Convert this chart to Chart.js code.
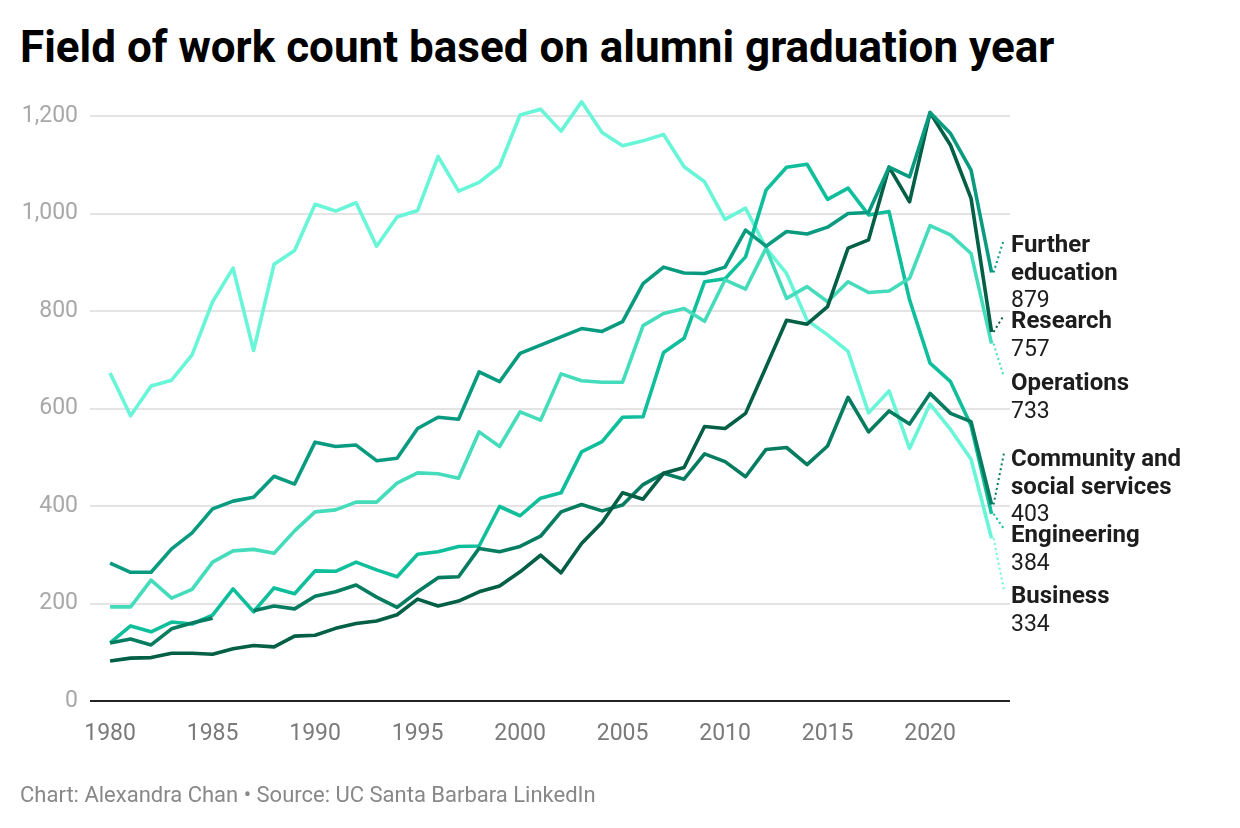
<!DOCTYPE html>
<html><head><meta charset="utf-8">
<script src="https://cdn.jsdelivr.net/npm/chart.js@4.4.1/dist/chart.umd.min.js"></script>
<style>
html,body{margin:0;padding:0;background:#fff;width:1240px;height:828px;overflow:hidden;font-family:Roboto,sans-serif}
#title{position:absolute;left:20px;top:20px;font-weight:700;font-size:44px;line-height:54px;color:#000;white-space:nowrap}
#foot{position:absolute;left:20px;top:782px;font-size:22px;line-height:26px;color:#888;white-space:nowrap}
canvas{position:absolute;left:0;top:0}
</style></head><body>
<div id="title">Field of work count based on alumni graduation year</div>
<canvas id="c" width="1240" height="828"></canvas>
<div id="foot">Chart: Alexandra Chan • Source: UC Santa Barbara LinkedIn</div>
<script>
const years = [1980,1981,1982,1983,1984,1985,1986,1987,1988,1989,1990,1991,1992,1993,1994,1995,1996,1997,1998,1999,2000,2001,2002,2003,2004,2005,2006,2007,2008,2009,2010,2011,2012,2013,2014,2015,2016,2017,2018,2019,2020,2021,2022,2023];
const xTicks = [1980,1985,1990,1995,2000,2005,2010,2015,2020];
const yTicks = [0,200,400,600,800,1000,1200];

const seriesNames = ['Further education','Research','Operations','Community and social services','Engineering','Business'];
const seriesColors = ['#099b80','#035f45','#45dcbc','#067c61','#0fbe9b','#69f5d8'];

const furtherEducation = [283,264,264,312,345,394,410,418,461,445,531,522,525,493,498,559,582,578,675,655,713,730,747,764,758,778,856,890,878,877,890,966,933,963,958,972,1000,1002,1095,1075,1207,1164,1089,879];
const research = [82,88,89,98,98,96,107,114,111,133,135,149,159,164,177,209,195,205,224,236,265,299,263,323,366,427,414,467,479,563,559,590,685,781,773,809,929,946,1095,1024,1207,1140,1031,757];
const operations = [193,193,248,211,229,285,308,311,303,349,388,392,408,408,447,468,466,457,552,522,593,576,671,657,654,654,770,795,805,779,864,845,929,826,850,819,860,838,841,867,975,956,918,733];
const community = [119,127,115,148,160,170,null,185,195,189,215,224,238,213,192,224,253,255,313,306,317,338,388,403,390,402,444,467,455,507,491,460,516,520,485,523,623,552,595,568,631,590,573,403];
const engineering = [119,154,142,162,158,176,230,183,232,220,267,266,285,269,255,301,306,317,318,399,380,416,427,511,532,582,583,715,744,860,866,911,1048,1095,1101,1029,1052,997,1004,823,693,655,565,384];
const business = [673,585,646,658,710,819,888,719,896,924,1019,1005,1022,933,993,1006,1117,1046,1064,1097,1202,1214,1169,1229,1166,1139,1149,1162,1096,1065,988,1011,929,877,781,751,717,591,636,518,609,557,496,334];

const seriesValues = [furtherEducation, research, operations, community, engineering, business];

// label layout (wrapped lines and baseline of first line)
const labelLayout = {
  'Further education': {lines:['Further','education'], base:252},
  'Research': {lines:['Research'], base:328},
  'Operations': {lines:['Operations'], base:390},
  'Community and social services': {lines:['Community and','social services'], base:466},
  'Engineering': {lines:['Engineering'], base:542},
  'Business': {lines:['Business'], base:603}
};

const datasets = seriesNames.map((name,i)=>({
  label:name,
  data: years.map((yr,j)=>({x:yr, y:seriesValues[i][j]})),
  borderColor: seriesColors[i],
  backgroundColor: seriesColors[i],
  borderWidth: 3.6,
  pointRadius: 0,
  pointHoverRadius: 0,
  tension: 0,
  spanGaps: false,
  borderJoinStyle: 'round',
  borderCapStyle: 'butt'
}));

const endLabels = {
  id:'endLabels',
  afterDatasetsDraw(chart){
    const {ctx, scales:{x,y}, chartArea} = chart;
    chart.data.datasets.forEach(ds=>{
      const last = ds.data[ds.data.length-1];
      const px = x.getPixelForValue(last.x), py = y.getPixelForValue(last.y);
      const L = labelLayout[ds.label];
      ctx.save();
      ctx.strokeStyle = ds.borderColor; ctx.lineWidth = 2; ctx.setLineDash([2,3]);
      ctx.beginPath(); ctx.moveTo(px+2, py); ctx.lineTo(chartArea.right-6, L.base-13); ctx.stroke();
      ctx.setLineDash([]);
      ctx.fillStyle = '#1d1d1d'; ctx.textAlign='left'; ctx.textBaseline='alphabetic';
      ctx.font = '700 24px Roboto';
      L.lines.forEach((t,j)=>ctx.fillText(t, chartArea.right+1, L.base + j*27.5));
      ctx.font = '400 23px Roboto';
      ctx.fillText(String(last.y), chartArea.right+1, L.base + L.lines.length*27.5);
      ctx.restore();
    });
  }
};

new Chart(document.getElementById('c'), {
  type:'line',
  data:{datasets},
  plugins:[endLabels],
  options:{
    responsive:false, animation:false, devicePixelRatio:1,
    layout:{padding:{left:0, right:230, top:86.75, bottom:0}},
    plugins:{legend:{display:false}, tooltip:{enabled:false}, title:{display:false}},
    scales:{
      x:{type:'linear', min:1979.02, max:2023.9,
        afterBuildTicks(s){ s.ticks = xTicks.map(v=>({value:v})); },
        afterFit(s){ s.height = 127; },
        grid:{display:false, drawTicks:false}, border:{display:false},
        ticks:{padding:19, color:'#7a7a7a', font:{family:'Roboto', size:23}, callback:v=>String(v), maxRotation:0, autoSkip:false}
      },
      y:{min:0, max:1260,
        afterBuildTicks(s){ s.ticks = yTicks.map(v=>({value:v})); },
        afterFit(s){ s.width = 90; },
        grid:{drawTicks:false, color:c=>c.tick && c.tick.value===0 ? '#222' : '#e4e4e4', lineWidth:2},
        border:{display:false},
        ticks:{padding:12, color:'#a8a8a8', font:{family:'Roboto', size:23}, callback:v=>v.toLocaleString('en-US')}
      }
    }
  }
});
</script>
</body></html>
